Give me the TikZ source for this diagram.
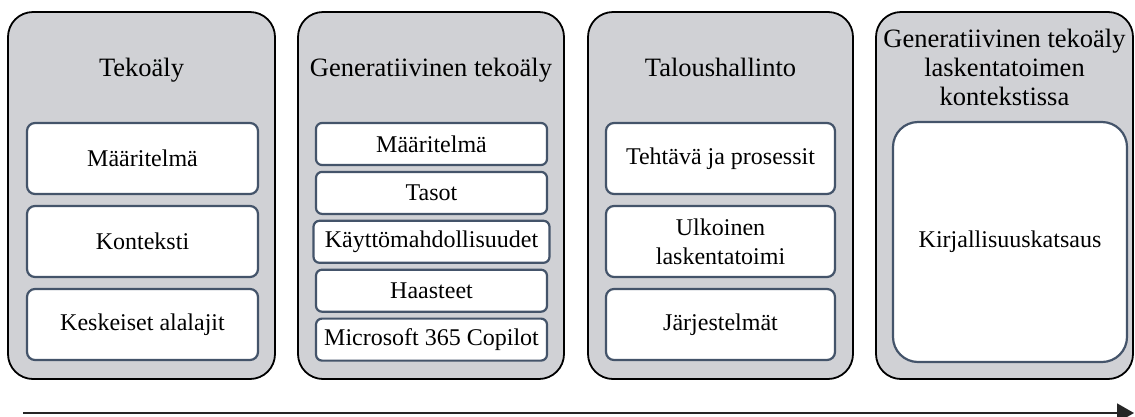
\documentclass[tikz,border=0pt]{standalone}
\usepackage{fontspec}
\setmainfont{Liberation Serif}
\usetikzlibrary{arrows.meta}
\definecolor{boxgray}{HTML}{D0D1D5}
\definecolor{itemline}{HTML}{44546A}
\tikzset{
	column/.style={draw=black, line width=1.8pt, fill=boxgray, rounded corners=25pt, minimum height=367pt, inner sep=0pt},
	title/.style={font=\fontsize{26.5}{29}\selectfont, align=center, inner sep=0pt},
	item/.style={draw=itemline, line width=2.2pt, fill=white, rounded corners=8pt, minimum width=231pt, minimum height=71pt, font=\fontsize{24}{29}\selectfont, align=center, inner sep=0pt},
	smallitem/.style={item, rounded corners=6pt, minimum height=42pt},
}
\begin{document}
\begin{tikzpicture}[x=1pt, y=-1pt]
				\useasboundingbox (0,0) rectangle (1135,416);
				% columns
				\node[column, minimum width=267pt] (col1) at (141.5,195.5) {};
				\node[column, minimum width=266pt] (col2) at (431,195.5) {};
				\node[column, minimum width=265pt] (col3) at (720.5,195.5) {};
				\node[column, minimum width=257pt] (col4) at (1004.5,195.5) {};
				
				\node[title, anchor=base] (title1) at (141.5,76) {Tekoäly};
				\node[title, anchor=base] (title2) at (431,76) {Generatiivinen tekoäly};
				\node[title, anchor=base] (title3) at (720.5,76) {Taloushallinto};
				\node[title] (title4) at (1004.5,67.5) {Generatiivinen tekoäly\\laskentatoimen\\kontekstissa};
				
				% Tekoäly
				\node[item] (ai1) at (142.5,158.5) {Määritelmä};
				\node[item] (ai2) at (142.5,241.5) {Konteksti};
				\node[item] (ai3) at (142.5,324.5) {Keskeiset alalajit};
				
				% Generatiivinen tekoäly
				\foreach \txt/\w [count=\i from 0] in {Määritelmä/231,Tasot/231,Käyttömahdollisuudet/236,Haasteet/231,Microsoft 365 Copilot/231} {
					\node[smallitem, minimum width=\w pt] (gen\i) at (431.5,144+48.9*\i) {\txt};
				}
				
				% Taloushallinto
				\node[item, minimum width=229pt] (fin1) at (720.5,158.5) {Tehtävä ja prosessit};
				\node[item, minimum width=229pt] (fin2) at (720.5,241.5) {Ulkoinen\\laskentatoimi};
				\node[item, minimum width=229pt] (fin3) at (720.5,324.5) {Järjestelmät};
				
				% Kirjallisuuskatsaus
				\node[item, minimum width=234pt, minimum height=240pt, rounded corners=25pt] (lit) at (1010,242) {Kirjallisuuskatsaus};
				
				% time axis
				\coordinate (axisstart) at (23,413);
				\coordinate (axisend) at (1134,413);
				\draw[line width=1.8pt, black!85, -{Triangle[length=17pt, width=19pt]}] (axisstart) -- (axisend);
			\end{tikzpicture}
\end{document}
